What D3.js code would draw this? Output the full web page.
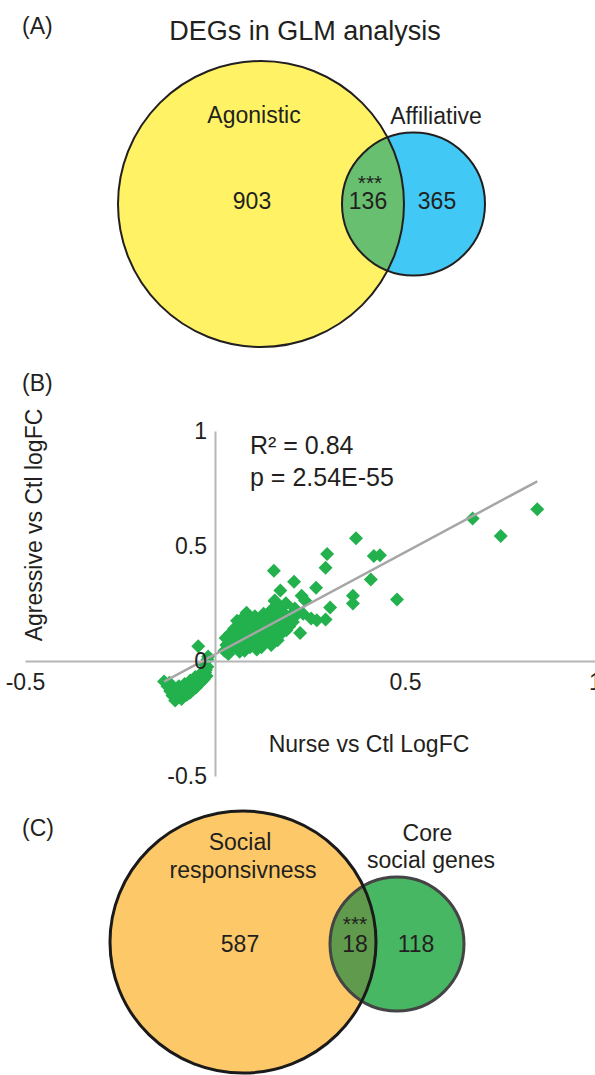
<!DOCTYPE html>
<html><head><meta charset="utf-8">
<script src="https://cdn.jsdelivr.net/npm/d3@7"></script>
<style>
html,body{margin:0;padding:0;background:#fff;}
svg{display:block;}
text{font-family:"Liberation Sans",Arial,Helvetica,sans-serif;fill:#231F20;}
</style></head><body>
<svg id="chart" width="595" height="1075"></svg>
<script>
// ---------------- DATA ----------------
// Panel A: Venn of DEGs in GLM analysis
const vennATitle = "DEGs in GLM analysis";
const vennASets = ["Agonistic", "Affiliative"];
const vennACounts = [903, 136, 365];       // left only, overlap, right only
const vennASig = "***";

// Panel C: Venn social responsiveness vs core social genes
const vennCSets = [["Social", "responsivness"], ["Core", "social genes"]];
const vennCCounts = [587, 18, 118];
const vennCSig = "***";

// Panel B: scatter Nurse vs Ctl logFC (x) / Agressive vs Ctl logFC (y)
const scatterPoints = [
  // negative cluster
  [-0.134,-0.089],[-0.125,-0.110],[-0.118,-0.130],[-0.112,-0.150],[-0.105,-0.172],
  [-0.098,-0.160],[-0.092,-0.142],[-0.088,-0.165],[-0.082,-0.150],[-0.078,-0.128],
  [-0.074,-0.147],[-0.070,-0.120],[-0.066,-0.138],[-0.062,-0.108],[-0.058,-0.125],
  [-0.054,-0.098],[-0.050,-0.115],[-0.048,-0.085],[-0.044,-0.102],[-0.040,-0.075],
  [-0.036,-0.090],[-0.032,-0.062],[-0.030,-0.080],[-0.026,-0.050],[-0.024,-0.039],
  [-0.022,-0.065],[-0.020,-0.025],[-0.018,0.020],[-0.020,0.005],[-0.028,-0.015],
  [-0.110,-0.120],[-0.100,-0.135],[-0.120,-0.095],[-0.086,-0.118],[-0.044,0.064],
  [-0.095,-0.110],[-0.080,-0.100],[-0.065,-0.085],[-0.052,-0.070],[-0.038,-0.055],
  // positive cluster
  [0.025,0.045],[0.030,0.070],[0.028,0.100],[0.035,0.030],[0.040,0.055],[0.045,0.085],
  [0.040,0.120],[0.050,0.140],[0.055,0.065],[0.060,0.100],[0.058,0.175],[0.065,0.125],
  [0.070,0.155],[0.072,0.080],[0.078,0.045],[0.080,0.110],[0.083,0.210],[0.085,0.185],
  [0.088,0.140],[0.092,0.060],[0.095,0.090],[0.100,0.165],[0.100,0.120],[0.105,0.195],
  [0.108,0.075],[0.112,0.145],[0.115,0.100],[0.118,0.180],[0.122,0.060],[0.125,0.130],
  [0.128,0.205],[0.130,0.160],[0.135,0.090],[0.138,0.115],[0.140,0.190],[0.145,0.145],
  [0.148,0.070],[0.150,0.225],[0.152,0.170],[0.155,0.100],[0.158,0.260],[0.160,0.130],
  [0.163,0.200],[0.165,0.090],[0.168,0.155],[0.170,0.230],[0.172,0.115],[0.175,0.180],
  [0.178,0.140],[0.180,0.210],[0.183,0.165],[0.186,0.250],[0.188,0.134],[0.190,0.190],
  [0.195,0.150],[0.200,0.200],[0.205,0.170],[0.110,0.050],[0.065,0.040],[0.090,0.160],
  [0.075,0.190],[0.050,0.100],
  // spread points
  [0.848,0.660],[0.678,0.620],[0.752,0.543],[0.371,0.534],[0.295,0.465],[0.418,0.457],
  [0.434,0.460],[0.291,0.405],[0.155,0.392],[0.410,0.354],[0.208,0.345],[0.266,0.318],
  [0.172,0.306],[0.479,0.267],[0.363,0.284],[0.363,0.250],[0.228,0.284],[0.157,0.263],
  [0.187,0.250],[0.237,0.263],[0.303,0.233],[0.218,0.207],[0.253,0.185],[0.268,0.177],
  [0.291,0.180],[0.224,0.122],[0.210,0.228],[0.232,0.205]
];
const trendSlope = 0.887;
const trendIntercept = 0.029;
const statsLines = ["R\u00B2 = 0.84", "p = 2.54E-55"];
const xTicks = [-0.5, 0.5, 1];
const yTicks = [-0.5, 0, 0.5, 1];
const xTitle = "Nurse vs Ctl LogFC";
const yTitle = "Agressive vs Ctl logFC";
const panelLabels = ["(A)", "(B)", "(C)"];

// ---------------- DRAW ----------------
const svg = d3.select("#chart");
const defs = svg.append("defs");
const FS = 23;

function txt(x, y, s, size, anchor) {
  return svg.append("text").attr("x", x).attr("y", y)
    .attr("font-size", size || FS).attr("text-anchor", anchor || "middle").text(s);
}

function venn(id, cfg) {
  const g = svg.append("g");
  defs.append("clipPath").attr("id", id)
    .append("ellipse").attr("cx", cfg.a.cx).attr("cy", cfg.a.cy).attr("rx", cfg.a.rx).attr("ry", cfg.a.ry);
  g.append("ellipse").attr("cx", cfg.a.cx).attr("cy", cfg.a.cy).attr("rx", cfg.a.rx).attr("ry", cfg.a.ry)
    .attr("fill", cfg.a.fill);
  g.append("ellipse").attr("cx", cfg.b.cx).attr("cy", cfg.b.cy).attr("rx", cfg.b.rx).attr("ry", cfg.b.ry)
    .attr("fill", cfg.b.fill);
  g.append("ellipse").attr("cx", cfg.b.cx).attr("cy", cfg.b.cy).attr("rx", cfg.b.rx).attr("ry", cfg.b.ry)
    .attr("fill", cfg.inter).attr("clip-path", `url(#${id})`);
  g.append("ellipse").attr("cx", cfg.b.cx).attr("cy", cfg.b.cy).attr("rx", cfg.b.rx).attr("ry", cfg.b.ry)
    .attr("fill", "none").attr("stroke", cfg.b.stroke).attr("stroke-width", cfg.sw);
  g.append("ellipse").attr("cx", cfg.a.cx).attr("cy", cfg.a.cy).attr("rx", cfg.a.rx).attr("ry", cfg.a.ry)
    .attr("fill", "none").attr("stroke", cfg.a.stroke).attr("stroke-width", cfg.sw);
}

// ----- Panel A -----
txt(22, 34, panelLabels[0], FS, "start");
txt(305, 40, vennATitle, 27);
venn("clipA", {
  a: {cx: 261, cy: 204, rx: 143, ry: 143, fill: "#FFF365", stroke: "#231F20"},
  b: {cx: 413.5, cy: 204, rx: 71.5, ry: 71.5, fill: "#42C8F4", stroke: "#231F20"},
  inter: "#68BF6F", sw: 2
});
txt(254, 123, vennASets[0]);
txt(436, 124, vennASets[1]);
txt(252, 209, vennACounts[0]);
txt(370, 190, vennASig, 21);
txt(368, 209, vennACounts[1]);
txt(437, 209, vennACounts[2]);

// ----- Panel B -----
txt(22, 391, panelLabels[1], FS, "start");
const x = d3.scaleLinear().domain([-0.5, 1]).range([25, 595]);
const y = d3.scaleLinear().domain([-0.5, 1]).range([776, 431]);

const xAxis = svg.append("g").attr("transform", `translate(0,${y(0)})`)
  .call(d3.axisBottom(x).tickValues(xTicks).tickSize(0).tickSizeOuter(0).tickPadding(13)
    .tickFormat(d => String(d)));
const yAxis = svg.append("g").attr("transform", `translate(${x(0)},0)`)
  .call(d3.axisLeft(y).tickValues(yTicks).tickSize(0).tickSizeOuter(0).tickPadding(8)
    .tickFormat(d => String(d)));
[xAxis, yAxis].forEach(a => {
  a.select(".domain").attr("stroke", "#B5B5B5").attr("stroke-width", 2);
  a.selectAll("text").attr("font-size", FS).attr("font-family", '"Liberation Sans",Arial,Helvetica,sans-serif').attr("fill", "#231F20");
});

const pts = svg.append("g");
pts.selectAll("path").data(scatterPoints).join("path")
  .attr("d", d => {
    const px = x(d[0]), py = y(d[1]), h = 7;
    return `M${px},${py - h}L${px + h},${py}L${px},${py + h}L${px - h},${py}Z`;
  })
  .attr("fill", "#22B14C");

const xExt = d3.extent(scatterPoints, d => d[0]);
svg.append("line")
  .attr("x1", x(xExt[0])).attr("y1", y(trendSlope * xExt[0] + trendIntercept))
  .attr("x2", x(xExt[1])).attr("y2", y(trendSlope * xExt[1] + trendIntercept))
  .attr("stroke", "#A6A6A6").attr("stroke-width", 2.5);

xAxis.raise(); yAxis.raise();

txt(250, 454, statsLines[0], 25, "start");
txt(250, 486, statsLines[1], 25, "start");
svg.append("text").attr("transform", "translate(42,525) rotate(-90)")
  .attr("font-size", FS).attr("text-anchor", "middle").text(yTitle);
txt(369, 752, xTitle);

// ----- Panel C -----
txt(22, 836, panelLabels[2], FS, "start");
venn("clipC", {
  a: {cx: 243, cy: 942, rx: 133, ry: 131, fill: "#FDC968", stroke: "#1A1A1A"},
  b: {cx: 397, cy: 944, rx: 67, ry: 67, fill: "#48B763", stroke: "#444444"},
  inter: "#5F9A4D", sw: 3
});
txt(240, 850, vennCSets[0][0]);
txt(243, 878, vennCSets[0][1]);
txt(427.5, 841, vennCSets[1][0]);
txt(431, 868, vennCSets[1][1]);
txt(240, 952, vennCCounts[0]);
txt(355, 931, vennCSig, 21);
txt(355, 952, vennCCounts[1]);
txt(416, 952, vennCCounts[2]);
</script></body></html>
